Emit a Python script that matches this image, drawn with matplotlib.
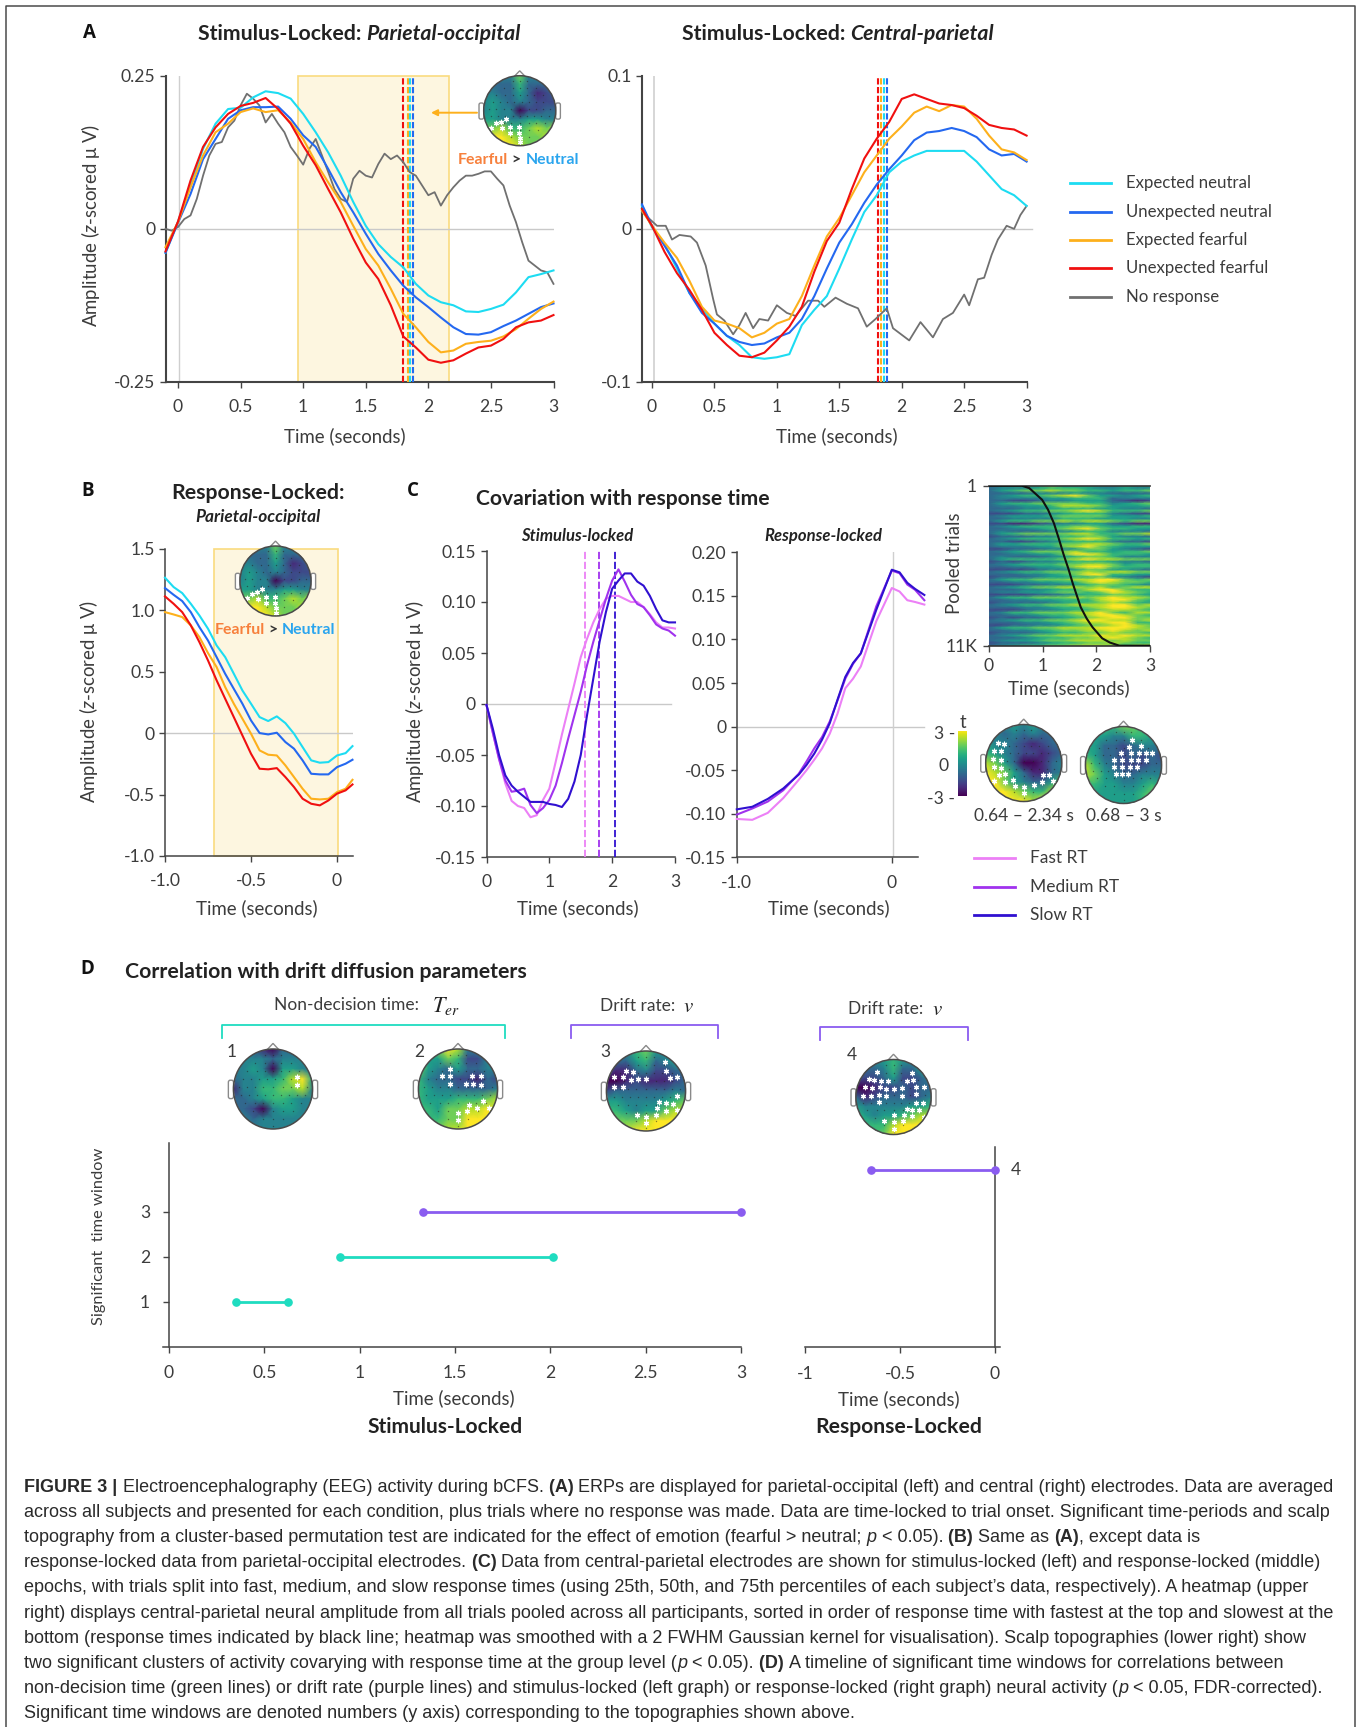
import numpy as np
import matplotlib
matplotlib.use('Agg')
import matplotlib.pyplot as plt
from matplotlib.lines import Line2D
from matplotlib.patches import Circle, FancyBboxPatch, Polygon

plt.rcParams['font.family'] = ['Lato', 'DejaVu Sans']
plt.rcParams['mathtext.fontset'] = 'custom'
plt.rcParams['mathtext.it'] = 'Lato:italic'
plt.rcParams['mathtext.rm'] = 'Lato'
plt.rcParams['mathtext.bf'] = 'Lato:bold'

W, H = 1357, 1727
# ---------- DATA ----------
T_A = [i / 10 for i in range(-1, 31)]
T_A_GREY = [i * 0.05 for i in range(-2, 61)]
PO_CYAN = [-.039,.012,.071,.131,.172,.196,.198,.215,.225,.222,.213,.188,.158,.125,.087,.044,.005,-.025,-.046,-.063,-.09,-.109,-.12,-.125,-.135,-.136,-.131,-.124,-.104,-.079,-.074,-.068]
PO_BLUE = [-.039,.01,.057,.114,.147,.180,.194,.199,.199,.2,.18,.153,.134,.098,.06,.027,-.008,-.041,-.068,-.093,-.112,-.128,-.145,-.161,-.172,-.173,-.169,-.159,-.15,-.139,-.128,-.122]
PO_ORANGE = [-.03,.011,.068,.12,.158,.172,.191,.197,.191,.194,.174,.147,.109,.076,.044,.005,-.033,-.06,-.098,-.139,-.161,-.185,-.202,-.199,-.188,-.185,-.183,-.176,-.164,-.147,-.131,-.119]
PO_RED = [-.037,.012,.079,.134,.166,.188,.201,.206,.214,.196,.172,.136,.104,.065,.027,-.016,-.055,-.082,-.125,-.176,-.194,-.214,-.219,-.215,-.204,-.194,-.191,-.18,-.161,-.153,-.15,-.141]
PO_GREY = [.0,-.003,.003,.016,.022,.049,.087,.12,.139,.142,.166,.177,.202,.221,.213,.202,.174,.188,.172,.158,.134,.12,.105,.131,.147,.12,.093,.065,.049,.044,.082,.095,.087,.084,.106,.123,.114,.12,.109,.093,.087,.071,.055,.06,.038,.055,.068,.079,.087,.087,.09,.094,.094,.082,.071,.038,.011,-.022,-.052,-.06,-.068,-.071,-.09]

T_CP = [-.08] + [i / 10 for i in range(0, 31)]
CP_CYAN = [.015,.001,-.01,-.026,-.042,-.052,-.062,-.07,-.076,-.084,-.085,-.084,-.082,-.063,-.053,-.044,-.026,-.007,.011,.022,.037,.044,.048,.051,.051,.051,.051,.044,.035,.026,.022,.015]
CP_BLUE = [.016,.002,-.011,-.024,-.042,-.055,-.062,-.07,-.074,-.076,-.075,-.071,-.068,-.059,-.044,-.026,-.009,.003,.017,.029,.039,.048,.058,.063,.064,.066,.064,.06,.052,.048,.049,.044]
CP_ORANGE = [.012,.002,-.009,-.019,-.034,-.051,-.06,-.062,-.065,-.071,-.068,-.062,-.059,-.044,-.024,-.005,.007,.022,.037,.048,.059,.067,.076,.08,.077,.081,.08,.072,.061,.052,.05,.045]
CP_RED = [.013,.002,-.015,-.029,-.04,-.053,-.068,-.076,-.083,-.084,-.081,-.073,-.064,-.051,-.028,-.008,.004,.026,.046,.059,.07,.085,.088,.085,.082,.081,.079,.074,.068,.066,.065,.061]
T_CP_GREY = [-.08,.04,.11,.16,.22,.31,.36,.43,.49,.52,.58,.65,.70,.75,.81,.86,.93,1.0,1.08,1.15,1.2,1.25,1.33,1.38,1.47,1.56,1.65,1.72,1.79,1.88,1.93,2.06,2.15,2.25,2.33,2.41,2.5,2.54,2.61,2.66,2.72,2.77,2.84,2.9,2.95,3.0]
CP_GREY = [.011,.002,.002,-.007,-.004,-.005,-.009,-.024,-.046,-.056,-.06,-.069,-.063,-.055,-.065,-.059,-.06,-.05,-.055,-.057,-.052,-.047,-.047,-.051,-.045,-.049,-.052,-.064,-.059,-.052,-.065,-.073,-.061,-.071,-.059,-.055,-.043,-.05,-.033,-.032,-.017,-.007,.002,0,.009,.015]

T_B = [-1,-.95,-.9,-.85,-.8,-.75,-.7,-.65,-.6,-.55,-.5,-.45,-.4,-.35,-.3,-.25,-.2,-.15,-.1,-.05,0,.05,.09]
B_CYAN = [1.264,1.188,1.139,1.052,.957,.849,.713,.618,.483,.347,.239,.13,.098,.136,.081,-.005,-.114,-.222,-.241,-.236,-.182,-.163,-.106]
B_BLUE = [1.18,1.125,1.074,.984,.862,.753,.618,.482,.36,.239,.103,0,-.011,.003,-.073,-.127,-.222,-.331,-.336,-.336,-.277,-.249,-.217]
B_ORANGE = [.984,.965,.944,.876,.781,.651,.537,.374,.239,.117,-.005,-.141,-.176,-.182,-.263,-.358,-.453,-.534,-.54,-.534,-.48,-.453,-.38]
B_RED = [1.112,1.052,.984,.876,.74,.591,.429,.279,.13,-.019,-.168,-.29,-.295,-.285,-.358,-.439,-.534,-.575,-.588,-.548,-.493,-.466,-.418]

T_CS = [i / 10 for i in range(0, 31)]
CS_FAST = [-.001,-.028,-.054,-.078,-.095,-.1,-.102,-.111,-.109,-.094,-.083,-.057,-.03,-.005,.02,.046,.064,.08,.093,.103,.106,.106,.103,.1,.1,.095,.088,.08,.075,.075,.074]
CS_MED = [-.001,-.028,-.054,-.075,-.086,-.085,-.083,-.099,-.107,-.102,-.094,-.08,-.058,-.034,-.011,.012,.038,.061,.082,.103,.121,.132,.12,.107,.098,.095,.087,.078,.074,.072,.067]
CS_SLOW = [-.001,-.024,-.05,-.07,-.08,-.086,-.091,-.096,-.096,-.096,-.098,-.099,-.101,-.093,-.076,-.05,-.011,.025,.061,.09,.113,.121,.128,.128,.12,.116,.106,.093,.082,.08,.08]
RT_MARKS = [1.57, 1.79, 2.05]

T_CR = [-1,-.9,-.8,-.7,-.6,-.55,-.5,-.45,-.4,-.35,-.3,-.25,-.2,-.1,0,.05,.1,.15,.21]
CR_FAST = [-.106,-.107,-.099,-.082,-.061,-.05,-.038,-.025,-.008,.015,.044,.055,.069,.121,.159,.155,.145,.143,.14]
CR_MED = [-.101,-.094,-.086,-.073,-.054,-.04,-.025,-.012,.006,.03,.055,.072,.084,.138,.179,.176,.163,.157,.145]
CR_SLOW = [-.095,-.092,-.083,-.071,-.055,-.044,-.031,-.015,.004,.031,.057,.073,.084,.134,.18,.177,.165,.158,.151]

RT_TIME = [0,.3,.61,.75,.99,1.1,1.21,1.3,1.39,1.48,1.56,1.64,1.71,1.82,1.93,2.11,2.25,2.43,3.0]
RT_FRAC = [0,0,0,.015,.088,.15,.235,.33,.43,.52,.61,.69,.76,.83,.885,.954,.98,1,1]
HEAT_ROWS = ["35666855654656","34445666544544","35677877665667","33334445443333","34566789755456","34444556663444","33223445553212","35667777664567","34455688875556","33344566655443","34566778986667","22233456664322","34555677775556","33444466655544","35667787887677","22112344553211","34566667765566","33445678976655","34333445664443","35677778866778","23334466775443","34566678986656","33223456664332","35566677887667","34445578976555","22333445775432","34567778665667","33445579986665","34333456776444","35666678988777","23234456665443","34566677887566","33445568997666","22223445775543","34566777878877","33344567996655","23334556675432","35667778899767","33445566898776","22233445677654","34567788786788","33344566899766","34455677679876","22223345667765","35667778789887","33445566689976","23333456678765","34566778889978","33344566789987","22234456678876","34667778897688","33445667899876","23233456789977","34566778998878","33344567889966","22334456778987","35667788899987","33445677889878","23334566778776","34567788898988","33345667789876","34556778887877","23334566778766","34566778887688"]

TOPO_EMOTION = ["334474433","333363333","443353123","454343222","454402233","554445544","778667878","899877787","999987777"]
TOPO_C1 = ["444545444","443434334","544321233","654322123","875300134","987531134","997543357","999876689","999998999"]
TOPO_C2 = ["556677655","555446654","553323443","653323232","864322233","875433444","665544565","655555677","555555677"]
TOPO_D1 = ["333103333","344434444","445405544","344556895","144667784","334566544","332045544","343444444","444444444"]
TOPO_D2 = ["667984456","755762244","754353344","643322132","654433334","655566678","665778898","666779999","667889999"]
TOPO_D3 = ["444675444","333563453","211342233","001211123","233333343","554444567","665455788","777789999","778999999"]
TOPO_D4 = ["444565444","333463356","222352234","001223233","312333234","544444556","654556788","666689998","666799987"]
SIG_EMOTION = [(-.8,-.49),(-.66,-.36),(-.53,-.32),(-.39,-.24),(-.5,-.5),(-.27,-.47),(-.27,-.63),(-.02,-.47),(-.02,-.63),(0,-.78),(0,-.9)]
SIG_C1 = [(-.68,.52),(-.52,.5),(-.79,.32),(-.61,.32),(-.81,.11),(-.61,.09),(-.79,-.11),(-.61,-.13),(-.66,-.32),(-.5,-.29),(-.78,-.48),(-.49,-.5),(-.29,-.43),(-.23,-.61),(0,-.63),(.02,-.79),(.26,-.58),(.47,-.5),(.5,-.3),(.67,-.32),(.78,-.48)]
SIG_C2 = [(.23,.66),(.14,.47),(.46,.49),(-.06,.3),(.19,.3),(.4,.3),(.58,.32),(.74,.32),(-.24,.13),(-.03,.13),(.19,.13),(.38,.13),(.58,.14),(-.24,-.04),(-.03,-.04),(.17,-.04),(.36,-.04),(-.19,-.24),(-.03,-.24),(.13,-.24)]
SIG_D1 = [(.6,.3),(.62,.1)]
SIG_D2 = [(-.19,.49),(-.41,.32),(-.19,.32),(-.21,.13),(.19,.13),(.36,.32),(.58,.32),(.38,.13),(.58,.1),(.27,-.4),(.47,-.47),(.64,-.3),(.78,-.47),(.24,-.55),(0,-.61),(0,-.78)]
SIG_D3 = [(.47,.72),(.51,.49),(-.51,.49),(-.34,.47),(-.8,.36),(-.59,.34),(-.37,.27),(-.2,.3),(0,.3),(.62,.32),(.79,.36),(-.82,.1),(-.59,.1),(.79,-.13),(.34,-.27),(.51,-.3),(.68,-.32),(.28,-.42),(.79,-.47),(.51,-.49),(.26,-.59),(-.23,-.61),(0,-.64),(0,-.81)]
SIG_D4 = [(-.45,.66),(.5,.64),(-.65,.49),(-.51,.46),(-.33,.44),(-.15,.44),(.35,.44),(.52,.46),(-.75,.28),(-.56,.25),(-.37,.27),(-.19,.22),(0,.22),(.22,.25),(.61,.27),(.8,.28),(-.81,.04),(-.59,.04),(-.38,.06),(-.19,.02),(.22,.04),(.61,.07),(-.38,-.13),(.6,-.16),(.79,-.16),(.35,-.31),(.5,-.34),(.68,-.35),(.02,-.49),(.28,-.49),(.49,-.51),(.8,-.53),(-.25,-.64),(0,-.66),(.24,-.64),(0,-.84)]
SENSOR_ROWS = [(.85,[-.2,0,.2]),(.65,[-.45,-.2,0,.2,.45]),(.45,[-.65,-.4,-.2,0,.2,.4,.65]),(.25,[-.75,-.55,-.35,-.15,.05,.25,.45,.65]),(.05,[-.85,-.65,-.45,-.25,0,.25,.45,.65,.85]),(-.15,[-.8,-.6,-.4,-.2,0,.2,.4,.6,.8]),(-.35,[-.7,-.45,-.25,0,.25,.45,.7]),(-.55,[-.5,-.25,0,.25,.5]),(-.75,[-.25,0,.25]),(-.92,[0])]

WIN_STIM_TER = [(.35,.625), (.895,2.015)]
WIN_STIM_TER_Y = [1, 2]
WIN_STIM_V = (1.33, 3.0)
WIN_STIM_V_Y = 3
WIN_RESP_V = (-.655, 0)
WIN_RESP_V_Y = 3.93

LEG_A = ['Expected neutral', 'Unexpected neutral', 'Expected fearful', 'Unexpected fearful', 'No response']
LEG_C = ['Fast RT', 'Medium RT', 'Slow RT']
CAPTION = [
 [('b','FIGURE 3 | '),('r','Electroencephalography (EEG) activity during bCFS. '),('b','(A) '),('r','ERPs are displayed for parietal-occipital (left) and central (right) electrodes. Data are averaged')],
 [('r','across all subjects and presented for each condition, plus trials where no response was made. Data are time-locked to trial onset. Significant time-periods and scalp')],
 [('r','topography from a cluster-based permutation test are indicated for the effect of emotion (fearful > neutral; '),('i','p'),('r',' < 0.05). '),('b','(B) '),('r','Same as '),('b','(A)'),('r',', except data is')],
 [('r','response-locked data from parietal-occipital electrodes. '),('b','(C) '),('r','Data from central-parietal electrodes are shown for stimulus-locked (left) and response-locked (middle)')],
 [('r','epochs, with trials split into fast, medium, and slow response times (using 25th, 50th, and 75th percentiles of each subject\u2019s data, respectively). A heatmap (upper')],
 [('r','right) displays central-parietal neural amplitude from all trials pooled across all participants, sorted in order of response time with fastest at the top and slowest at the')],
 [('r','bottom (response times indicated by black line; heatmap was smoothed with a 2 FWHM Gaussian kernel for visualisation). Scalp topographies (lower right) show')],
 [('r','two significant clusters of activity covarying with response time at the group level ('),('i','p'),('r',' < 0.05). '),('b','(D) '),('r','A timeline of significant time windows for correlations between')],
 [('r','non-decision time (green lines) or drift rate (purple lines) and stimulus-locked (left graph) or response-locked (right graph) neural activity ('),('i','p'),('r',' < 0.05, FDR-corrected).')],
 [('r','Significant time windows are denoted numbers (y axis) corresponding to the topographies shown above.')],
]
# ---------- STYLE ----------
C_CYAN, C_BLUE, C_ORANGE, C_RED, C_GREY = '#1ddcf2', '#2468f0', '#fdb01c', '#f01010', '#707070'
C_FAST, C_MED, C_SLOW = '#ec80f6', '#a032ee', '#3010d0'
C_TXT, C_AX = '#3c3c3c', '#444444'
C_TEAL, C_PURP = '#1fdcc0', '#8a5cf0'
TICK_FS = 12.6
LAB_FS = 13.4

fig = plt.figure(figsize=(W / 100, H / 100), dpi=100, facecolor='white')

def axpx(l, t, r, b, **kw):
    return fig.add_axes([l / W, 1 - b / H, (r - l) / W, (b - t) / H], **kw)

def style(ax, xt, xl, yt, yl, xpad=8, ypad=3, slw=1.1):
    for s in ('top', 'right'):
        ax.spines[s].set_visible(False)
    for s in ('left', 'bottom'):
        ax.spines[s].set_color(C_AX)
        ax.spines[s].set_linewidth(slw)
    ax.set_xticks(xt, xl)
    ax.set_yticks(yt, yl)
    ax.tick_params(length=4.5, width=1, color=C_AX, labelcolor=C_TXT, labelsize=TICK_FS)
    ax.tick_params(axis='x', pad=xpad)
    ax.tick_params(axis='y', pad=ypad)
    ax.patch.set_alpha(0)

def lines(ax, t, series, lw=1.5):
    for y, c in series:
        ax.plot(t, y, color=c, lw=lw, solid_joinstyle='round', zorder=4, clip_on=False)

XT3 = [0, .5, 1, 1.5, 2, 2.5, 3]
XL3 = ['0', '0.5', '1', '1.5', '2', '2.5', '3']

# ---- A left
a1 = axpx(166, 76, 553.5, 381.7)
a1.set_xlim(-.096, 3); a1.set_ylim(-.25, .25)
style(a1, XT3, XL3, [-.25, 0, .25], ['-0.25', '0', '0.25'], slw=1.5)
a1.axvspan(.96, 2.165, facecolor='#fdf6e0', edgecolor='#fadb7f', lw=1.2, zorder=1, clip_on=False)
a1.axhline(0, color='#c9c9c9', lw=1, zorder=2)
a1.axvline(.01, color='#cfcfcf', lw=1, zorder=2)
for x, c in [(1.80, C_RED), (1.835, C_ORANGE), (1.855, C_CYAN), (1.875, C_BLUE)]:
    a1.axvline(x, color=c, lw=1.5, ls=(0, (3, 1.2)), zorder=3)
lines(a1, T_A_GREY, [(PO_GREY, C_GREY)], 1.3)
lines(a1, T_A, [(PO_CYAN, C_CYAN), (PO_BLUE, C_BLUE), (PO_ORANGE, C_ORANGE), (PO_RED, C_RED)])

# ---- A right
a2 = axpx(642, 76, 1026.6, 381.7)
a2.set_xlim(-.08, 3); a2.set_ylim(-.1, .1)
style(a2, XT3, XL3, [-.1, 0, .1], ['-0.1', '0', '0.1'], slw=1.5)
a2.plot([-.08, 3.04], [0, 0], color='#c9c9c9', lw=1, zorder=2, clip_on=False)
a2.axvline(.02, color='#cfcfcf', lw=1.2, zorder=2)
for x, c in [(1.807, C_RED), (1.836, C_ORANGE), (1.86, C_CYAN), (1.886, C_BLUE)]:
    a2.axvline(x, color=c, lw=1.5, ls=(0, (3, 1.2)), zorder=3)
lines(a2, T_CP_GREY, [(CP_GREY, C_GREY)], 1.3)
lines(a2, T_CP, [(CP_CYAN, C_CYAN), (CP_BLUE, C_BLUE), (CP_ORANGE, C_ORANGE), (CP_RED, C_RED)])

# ---- B
b = axpx(165, 548.7, 353, 856)
b.set_xlim(-1, .093); b.set_ylim(-1, 1.5)
style(b, [-1, -.5, 0], ['-1.0', '-0.5', '0'], [-1, -.5, 0, .5, 1, 1.5], ['-1.0', '-0.5', '0', '0.5', '1.0', '1.5'])
b.axvspan(-.713, .005, facecolor='#fdf6e0', edgecolor='#fadb7f', lw=1.2, zorder=1, clip_on=False)
b.axhline(0, color='#c9c9c9', lw=1, zorder=2)
lines(b, T_B, [(B_CYAN, C_CYAN), (B_BLUE, C_BLUE), (B_ORANGE, C_ORANGE), (B_RED, C_RED)])

# ---- C stimulus
c1 = axpx(486.5, 551, 675, 857)
c1.set_xlim(0, 3); c1.set_ylim(-.15, .15)
style(c1, [0, 1, 2, 3], ['0', '1', '2', '3'], [-.15, -.1, -.05, 0, .05, .1, .15], ['-0.15', '-0.10', '-0.05', '0', '0.05', '0.10', '0.15'])
c1.plot([0, 2.94], [0, 0], color='#c9c9c9', lw=1, zorder=2)
for x, c in zip(RT_MARKS, (C_FAST, C_MED, C_SLOW)):
    c1.axvline(x, color=c, lw=1.3, ls=(0, (4, 1.5)), zorder=3)
lines(c1, T_CS, [(CS_FAST, C_FAST), (CS_MED, C_MED), (CS_SLOW, C_SLOW)])

# ---- C response
c2 = axpx(736.8, 552.3, 918, 857.3)
c2.set_xlim(-1, .169); c2.set_ylim(-.15, .2)
style(c2, [-1, 0], ['-1.0', '0'], [-.15, -.1, -.05, 0, .05, .1, .15, .2], ['-0.15', '-0.10', '-0.05', '0', '0.05', '0.10', '0.15', '0.20'])
c2.plot([-1, .21], [0, 0], color='#c9c9c9', lw=1, zorder=2, clip_on=False)
c2.axvline(.01, color='#cfcfcf', lw=1, zorder=2)
lines(c2, T_CR, [(CR_FAST, C_FAST), (CR_MED, C_MED), (CR_SLOW, C_SLOW)])

# ---- heatmap
hm = axpx(989, 485.7, 1150, 645.7)
heat = np.array([[int(ch) for ch in r] for r in HEAT_ROWS], float)
hm.pcolormesh(np.linspace(0, 3, heat.shape[1]), np.linspace(0, 1, heat.shape[0]), heat, shading='gouraud', cmap='viridis', vmin=0, vmax=9)
hm.plot(RT_TIME, RT_FRAC, color='#111111', lw=1.5, zorder=3, clip_on=True)
hm.set_xlim(0, 3); hm.set_ylim(1, 0)
hm.set_xticks([0, 1, 2, 3], ['0', '1', '2', '3'])
hm.set_yticks([0, 1], ['1', '11K'])
hm.tick_params(length=4.5, width=1, color=C_AX, labelcolor=C_TXT, labelsize=TICK_FS, pad=4)
for s in hm.spines.values():
    s.set_visible(False)
for s in ('top', 'bottom'):
    hm.spines[s].set_visible(True); hm.spines[s].set_color('#333333'); hm.spines[s].set_linewidth(1.2)

# ---- colour bar
cb = axpx(958, 730.7, 967, 796)
cb.imshow(np.linspace(3, -3, 100)[:, None], aspect='auto', cmap='viridis', extent=[0, 1, -3, 3])
cb.set_xticks([]); cb.set_yticks([])
for s in cb.spines.values():
    s.set_visible(False)

# ---- heads
def head(cx, cy, rx, ry, grid, sig, ms=15):
    ax = axpx(cx - 1.25 * rx, cy - 1.25 * ry, cx + 1.25 * rx, cy + 1.25 * ry, zorder=6)
    ax.axis('off')
    ax.patch.set_alpha(0)
    for sgn in (-1, 1):
        x0 = 1.0 if sgn > 0 else -1.13
        ax.add_patch(FancyBboxPatch((x0, -.24), .13, .46, boxstyle='round,pad=0,rounding_size=.05', fc='white', ec='#8a8a8a', lw=1, clip_on=False))
    ax.add_patch(Polygon([(-.16, .97), (0, 1.14), (.16, .97)], closed=True, fc='white', ec='#8a8a8a', lw=1, clip_on=False))
    arr = np.array([[int(ch) for ch in r] for r in grid], float)
    gx = np.linspace(-1, 1, arr.shape[1])
    gy = np.linspace(1, -1, arr.shape[0])
    mesh = ax.pcolormesh(gx, gy, arr, cmap='viridis', vmin=0, vmax=9, shading='gouraud', zorder=2)
    mesh.set_clip_path(Circle((0, 0), 1, transform=ax.transData))
    ax.set_xlim(-1.25, 1.25); ax.set_ylim(-1.25, 1.25)
    ax.add_patch(Circle((0, 0), 1, fc='none', ec='#4a4a4a', lw=1.1, zorder=5))
    sx = [x for y, xs in SENSOR_ROWS for x in xs]
    sy = [y for y, xs in SENSOR_ROWS for x in xs]
    ax.scatter(sx, sy, s=1, color='#222222', alpha=.55, linewidths=0, zorder=3)
    ax.scatter([p[0] for p in sig], [p[1] for p in sig], s=ms, marker=(6, 2, 0), color='white', linewidths=.9, zorder=4)

head(519.7, 110.7, 36, 35, TOPO_EMOTION, SIG_EMOTION, 10)
head(275.5, 581, 35.5, 35, TOPO_EMOTION, SIG_EMOTION, 10)
head(1023.7, 763, 38, 38.5, TOPO_C1, SIG_C1, 11)
head(1123.5, 765, 38, 38.5, TOPO_C2, SIG_C2, 11)
head(273, 1089, 39.5, 40, TOPO_D1, SIG_D1, 11)
head(458, 1089, 39.5, 40, TOPO_D2, SIG_D2, 11)
head(646, 1091, 39.5, 40, TOPO_D3, SIG_D3, 11)
head(893.5, 1097, 37.6, 37.5, TOPO_D4, SIG_D4, 10)

# ---- D
d1 = axpx(163, 1142.7, 741, 1346.7)
d1.set_xlim(-.031, 3); d1.set_ylim(0, 204 / 45)
style(d1, XT3, XL3, [1, 2, 3], ['1', '2', '3'], 9, 9)
d1.spines['left'].set_position(('data', 0))
for (t0, t1), y in zip(WIN_STIM_TER, WIN_STIM_TER_Y):
    d1.plot([t0, t1], [y, y], color=C_TEAL, lw=2, marker='o', ms=5.2, zorder=4)
d1.plot(WIN_STIM_V, [WIN_STIM_V_Y] * 2, color=C_PURP, lw=2, marker='o', ms=5.2, zorder=4, clip_on=False)

d2 = axpx(805, 1147, 1000, 1347)
d2.set_xlim(-1, .026); d2.set_ylim(0, 200 / 45)
style(d2, [-1, -.5, 0], ['-1', '-0.5', '0'], [], [], 9, 9)
d2.spines['left'].set_position(('data', 0))
d2.plot(WIN_RESP_V, [WIN_RESP_V_Y] * 2, color=C_PURP, lw=2, marker='o', ms=5.2, zorder=4, clip_on=False)

# ---- overlay in pixel coordinates
ov = fig.add_axes([0, 0, 1, 1], zorder=10)
ov.set_xlim(0, W); ov.set_ylim(H, 0); ov.axis('off'); ov.patch.set_alpha(0)
rend = fig.canvas.get_renderer()

def T(x, y, s, fs=LAB_FS, ha='center', color=C_TXT, **kw):
    return ov.text(x, y, s, fontsize=fs, ha=ha, va='center', color=color, **kw)

def width(s, **kw):
    t = ov.text(0, 0, 'a' + s + 'a', **kw); w1 = t.get_window_extent(rend).width; t.remove()
    t = ov.text(0, 0, 'aa', **kw); w2 = t.get_window_extent(rend).width; t.remove()
    return w1 - w2

def runs(x, y, parts, ha='left', color='#222222'):
    ws = [width(s, **{k: v for k, v in kw.items() if k != 'color'}) for s, kw in parts]
    if ha == 'center':
        x -= sum(ws) / 2
    for (s, kw), w in zip(parts, ws):
        c = kw.pop('color', color)
        ov.text(x, y, s, va='center_baseline', ha='left', color=c, **kw)
        x += w

# frame
ov.add_line(Line2D([6, 6, 1355, 1355], [H, 6, 6, H], color='#4a4a4a', lw=1.1))

# panel letters
for s, x, y in [('A', 89, 33), ('B', 88, 491), ('C', 413, 491), ('D', 87.5, 969)]:
    T(x, y, s, 13.5, color='#111111', weight='bold', family='Open Sans')

# titles
TK = dict(fontsize=15.3, weight='bold')
TI = dict(fontsize=15.3, weight='bold', style='italic')
runs(359, 32, [('Stimulus-Locked: ', dict(TK)), ('Parietal-occipital', dict(TI))], 'center')
runs(838, 32, [('Stimulus-Locked: ', dict(TK)), ('Central-parietal', dict(TI))], 'center')
T(258, 493, 'Response-Locked:', 15.3, color='#222222', weight='bold')
T(258, 517, 'Parietal-occipital', 12.4, color='#222222', weight='bold', style='italic')
T(622.5, 499, 'Covariation with response time', 15.2, color='#222222', weight='bold')
T(577, 536, 'Stimulus-locked', 12, color='#222222', weight='bold', style='italic')
T(823, 536, 'Response-locked', 12, color='#222222', weight='bold', style='italic')
T(326, 971.7, 'Correlation with drift diffusion parameters', 15.3, color='#222222', weight='bold')
T(444.6, 1427, 'Stimulus-Locked', 15, color='#222222', weight='bold')
T(899, 1427, 'Response-Locked', 15.2, color='#222222', weight='bold')

# axis labels
for x, y in [(345, 436), (837, 436), (256.7, 908), (578, 908), (829, 908), (1069, 688), (454, 1398), (899, 1399)]:
    T(x, y, 'Time (seconds)')
YL = 'Amplitude ($\\mathit{z}$-scored \u03bc V)'
T(90, 225, YL, rotation=90)
T(88.6, 701, YL, rotation=90)
T(414, 701, YL, rotation=90)
T(954.5, 563, 'Pooled trials', rotation=90)
T(99.5, 1236, 'Significant  time window', 11.8, rotation=90)

# legends
for s, y, c in zip(LEG_A, (183, 212, 240, 268, 297), (C_CYAN, C_BLUE, C_ORANGE, C_RED, C_GREY)):
    ov.add_line(Line2D([1070, 1111], [y, y], color=c, lw=2))
    T(1125.7, y, s, 12.1, ha='left')
for s, y, c in zip(LEG_C, (858, 886.7, 915.3), (C_FAST, C_MED, C_SLOW)):
    ov.add_line(Line2D([973.7, 1014.7], [y, y], color=c, lw=2))
    T(1030, y, s, 12.5, ha='left')

# annotations
FK = dict(fontsize=11.4, weight='bold')
for x, y in [(518.5, 158), (275, 628)]:
    runs(x, y, [('Fearful', dict(FK, color='#f7803c')), (' > ', dict(FK, color='#333333')), ('Neutral', dict(FK, color='#2aa5ee'))], 'center')
ov.annotate('', xy=(431, 112.7), xytext=(477, 112.7), arrowprops=dict(arrowstyle='-|>', color=C_ORANGE, lw=1.4, mutation_scale=9, shrinkA=0, shrinkB=0))
T(1023.7, 815.7, '0.64 \u2013 2.34 s', 12.5)
T(1124, 815.7, '0.68 \u2013 3 s', 12.5)
T(963, 722.7, 't', 13.5)
for s, y, xr in [('3 -', 734, 955), ('0', 766, 949), ('-3 -', 799, 955)]:
    T(xr, y, s, 12.6, ha='right')
for s, x, y in [('1', 232, 1051.7), ('2', 419, 1051.7), ('3', 605, 1051.7), ('4', 852, 1055), ('4', 1015.4, 1170)]:
    T(x, y, s, 12.5)

# bracket headers
T(347, 1005, 'Non-decision time:', 12.5)
ov.text(446, 1006, r'$T_{er}$', fontsize=16, ha='center', va='center', color='#222222', math_fontfamily='stix')
for x, y in [(645.5, 1006), (894, 1009)]:
    ov.text(x - 8, y, 'Drift rate:', fontsize=12.5, ha='center', va='center', color=C_TXT)
    ov.text(x + 43, y, r'$v$', fontsize=15, ha='center', va='center', color='#222222', math_fontfamily='stix')
for l, r, t, b, c in [(222, 504.5, 1025, 1037.7, C_TEAL), (571, 718, 1025, 1037.7, C_PURP), (820, 967.5, 1027, 1040, C_PURP)]:
    ov.add_line(Line2D([l, l, r, r], [b, t, t, b], color=c, lw=1.3))

# caption
CAP = {'r': dict(family='Liberation Sans'), 'b': dict(family='Liberation Sans', weight='bold'), 'i': dict(family='Liberation Sans', style='italic')}
for i, line in enumerate(CAPTION):
    runs(24.5, 1485 + i * 25.2, [(s, dict(CAP[k], fontsize=13.0)) for k, s in line], color='#2a2a2a')

fig.savefig('out.png', dpi=100)
